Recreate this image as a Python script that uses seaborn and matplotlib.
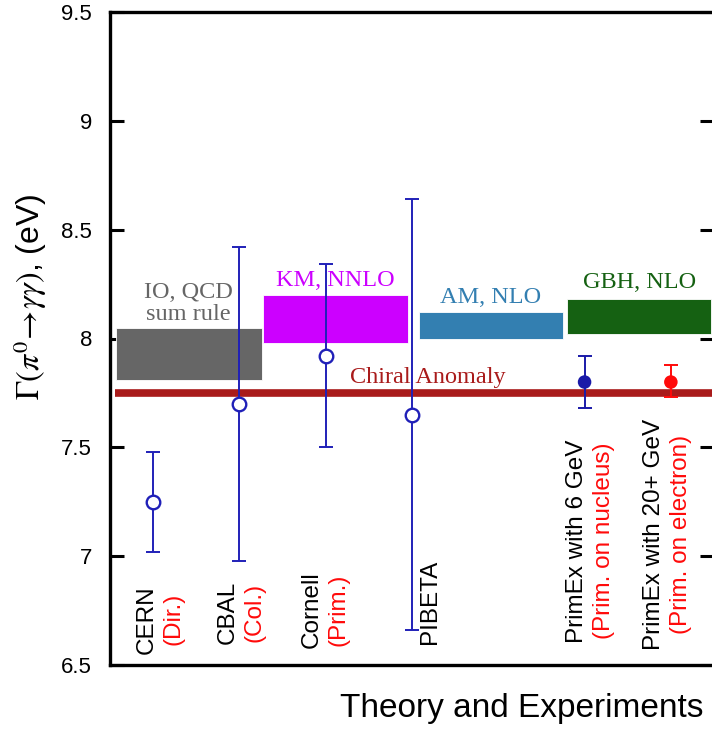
import numpy as np
import pandas as pd
import matplotlib
matplotlib.use("Agg")
import matplotlib.pyplot as plt
import seaborn as sns

# experiments: position on x axis, central value and error range (eV)
exp_names = ["CERN", "CBAL", "Cornell", "PIBETA", "PrimEx with 6 GeV", "PrimEx with 20+ GeV"]
exp_sub = ["(Dir.)", "(Col.)", "(Prim.)", "", "(Prim. on nucleus)", "(Prim. on electron)"]
exp_x = [1, 2, 3, 4, 6, 7]
exp_val = [7.25, 7.70, 7.92, 7.65, 7.80, 7.80]
exp_lo = [7.02, 6.98, 7.50, 6.66, 7.68, 7.73]
exp_hi = [7.48, 8.42, 8.34, 8.64, 7.92, 7.88]
exp_open = [True, True, True, True, False, False]

# theory bands
band_names = ["IO, QCD\nsum rule", "KM, NNLO", "AM, NLO", "GBH, NLO"]
band_x0 = [0.57, 2.27, 4.08, 5.80]
band_x1 = [2.26, 3.95, 5.75, 7.47]
band_lo = [7.81, 7.98, 8.00, 8.02]
band_hi = [8.05, 8.20, 8.12, 8.18]
band_colors = ["#666666", "#cc00ff", "#337fb1", "#156112"]

chiral_value = 7.75

y_ticks = [6.5, 7, 7.5, 8, 8.5, 9, 9.5]
y_tick_labels = ["6.5", "7", "7.5", "8", "8.5", "9", "9.5"]

BLUE = "#2020b8"
DARK_BLUE = "#1a1aa8"
RED = "#ff0a0a"

sns.set_theme(style="ticks")
plt.rcParams["font.family"] = ["Liberation Sans", "DejaVu Sans"]
plt.rcParams["mathtext.fontset"] = "stix"

fig = plt.figure(figsize=(7.12, 7.32), dpi=100)
ax = fig.add_axes([110 / 712, 67 / 732, 604 / 712, 653 / 732])

# theory bands
for name, x0, x1, lo, hi, col in zip(band_names, band_x0, band_x1, band_lo, band_hi, band_colors):
    ax.bar((x0 + x1) / 2, hi - lo, width=x1 - x0, bottom=lo, color=col,
           edgecolor="white", linewidth=0.6, zorder=2)

# band labels
ax.text(1.41, 8.16, band_names[0], color="#666666", family="Liberation Serif",
        fontsize=17.5, ha="center", va="center", linespacing=1.05, zorder=3)
ax.text(3.11, 8.265, band_names[1], color="#cc00ff", family="Liberation Serif",
        fontsize=17.5, ha="center", va="center", zorder=3)
ax.text(4.91, 8.19, band_names[2], color="#337fb1", family="Liberation Serif",
        fontsize=17.5, ha="center", va="center", zorder=3)
ax.text(6.64, 8.255, band_names[3], color="#156112", family="Liberation Serif",
        fontsize=17.5, ha="center", va="center", zorder=3)

# chiral anomaly prediction
ax.hlines(chiral_value, 0.56, 7.6, color="#a91b1b", lw=5.5, zorder=3)
ax.text(3.28, 7.82, "Chiral Anomaly", color="#a91b1b", family="Liberation Serif",
        fontsize=17.5, ha="left", va="center", zorder=3)

# experiments
df = pd.DataFrame({"name": exp_names, "x": exp_x, "val": exp_val,
                   "lo": exp_lo, "hi": exp_hi, "open": exp_open})
bar_colors = [BLUE, BLUE, BLUE, BLUE, DARK_BLUE, RED]
for i, row in df.iterrows():
    ax.errorbar(row["x"], row["val"],
                yerr=[[row["val"] - row["lo"]], [row["hi"] - row["val"]]],
                fmt="none", ecolor=bar_colors[i], elinewidth=1.4,
                capsize=5, capthick=1.4, zorder=4)

sns.scatterplot(data=df[df["open"]], x="x", y="val", ax=ax, marker="o", s=95,
                color="white", edgecolor=BLUE, linewidth=1.7, zorder=5, legend=False)
sns.scatterplot(data=df[~df["open"]], x="x", y="val", hue="name", ax=ax,
                palette=[DARK_BLUE, RED], marker="o", s=95, edgecolor="none",
                zorder=5, legend=False)

# rotated labels for the experiments
lab_x = [1.08, 2.02, 2.99, 4.21, 6.07, 6.96]
lab_y = [6.71, 6.74, 6.755, 6.79, 7.07, 7.10]
for name, sub, lx, ly in zip(exp_names, exp_sub, lab_x, lab_y):
    if sub:
        ax.text(lx - 0.155, ly, name, rotation=90, fontsize=17.5, color="black",
                ha="center", va="center", zorder=6)
        ax.text(lx + 0.155, ly, sub, rotation=90, fontsize=17.5, color=RED,
                ha="center", va="center", zorder=6)
    else:
        ax.text(lx, ly, name, rotation=90, fontsize=17.5, color="black",
                ha="center", va="center", zorder=6)

ax.set_xlim(0.5, 7.5)
ax.set_ylim(6.5, 9.5)
ax.set_xticks([])
ax.set_yticks(y_ticks)
ax.set_yticklabels(y_tick_labels)
ax.tick_params(axis="y", which="both", direction="in", length=10, width=2.2,
               labelsize=16, pad=13, right=True, colors="black")
for s in ax.spines.values():
    s.set_linewidth(2.4)
    s.set_color("black")
    s.set_visible(True)

ax.set_ylabel("")
ax.set_xlabel("Theory and Experiments", fontsize=24, color="black", ha="left")
ax.xaxis.set_label_coords(0.38, -0.043)

fig.text(30 / 712, 1 - 297 / 732, r"$\Gamma(\pi^0\!\rightarrow\!\gamma\gamma)$, (eV)",
         rotation=90, fontsize=23, ha="center", va="center", color="black")

fig.savefig("out.png", dpi=100)
